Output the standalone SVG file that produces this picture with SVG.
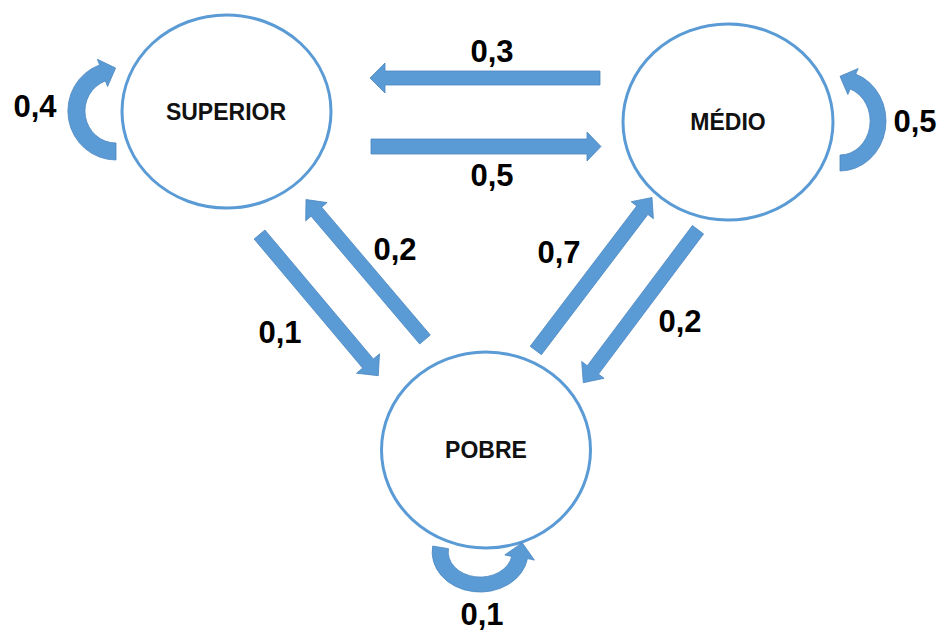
<svg xmlns="http://www.w3.org/2000/svg" width="942" height="634" viewBox="0 0 942 634">
<style>
.node{fill:#ffffff;stroke:#5B9BD5;stroke-width:3}
.ntxt{font-family:"Liberation Sans",Arial,sans-serif;font-weight:bold;font-size:23px;fill:#111;text-anchor:middle}
.arr{fill:#5B9BD5;stroke:#4A86C0;stroke-width:0.8;stroke-linejoin:miter}
.lbl{font-family:"Liberation Sans",Arial,sans-serif;font-weight:bold;font-size:31px;fill:#000;text-anchor:middle}
</style>
<rect width="942" height="634" fill="#ffffff"/>
<g id="superior">
<ellipse class="node" cx="226.5" cy="111.5" rx="104.5" ry="96.5"/>
<text class="ntxt" x="226" y="120">SUPERIOR</text>
</g>
<g id="medio">
<ellipse class="node" cx="728" cy="122" rx="105" ry="98"/>
<text class="ntxt" x="728" y="130">MÉDIO</text>
</g>
<g id="pobre">
<ellipse class="node" cx="486" cy="450" rx="104.5" ry="98"/>
<text class="ntxt" x="486" y="458">POBRE</text>
</g>
<g id="connectors">
<polygon class="arr" points="600,71 385,71 385,63 370,78 385,93 385,85 600,85"/>
<polygon class="arr" points="371,139 587,139 587,132 601,146.5 587,161 587,154 371,154"/>
<polygon class="arr" points="264.9,230.0 373.4,359.0 379.5,353.8 378.3,375.7 356.5,373.2 362.6,368.0 254.1,239.0"/>
<polygon class="arr" points="430.3,335.0 321.7,207.2 327.1,202.6 306,199.5 305.7,220.8 311.1,216.2 419.7,344.0"/>
<polygon class="arr" points="541.4,354.7 647.9,214.4 653.4,218.7 652,197.5 631.2,201.7 636.7,206.0 530.2,346.3"/>
<polygon class="arr" points="703.6,233.9 598.5,374.1 604.1,378.3 583.3,382.7 581.7,361.5 587.3,365.7 692.4,225.5"/>
<path class="arr" d="M116,160 A48 49 0 0 1 99.6,64.9 L97.4,59.3 L115.6,68 L107.6,86.5 L105.4,80.9 A31 32 0 0 0 116,143 Z"/>
<path class="arr" d="M840,171 A46 50 0 0 0 855.7,74 L858.2,68.5 L840,76.3 L847.8,94.5 L850.3,89 A30 34 0 0 1 840,155 Z"/>
<path class="arr" d="M432.7,546 A48 40 0 0 0 527.5,558.6 L534.4,560.1 L522.2,542.7 L504.8,554.9 L511.7,556.5 A32 25 0 0 1 448.5,548.7 Z"/>
</g>
<g id="labels">
<text class="lbl" x="35" y="117">0,4</text>
<text class="lbl" x="492" y="62">0,3</text>
<text class="lbl" x="492" y="186">0,5</text>
<text class="lbl" x="915" y="132">0,5</text>
<text class="lbl" x="395" y="260">0,2</text>
<text class="lbl" x="280" y="343">0,1</text>
<text class="lbl" x="559" y="263">0,7</text>
<text class="lbl" x="680" y="332">0,2</text>
<text class="lbl" x="482" y="625">0,1</text>
</g>
</svg>
